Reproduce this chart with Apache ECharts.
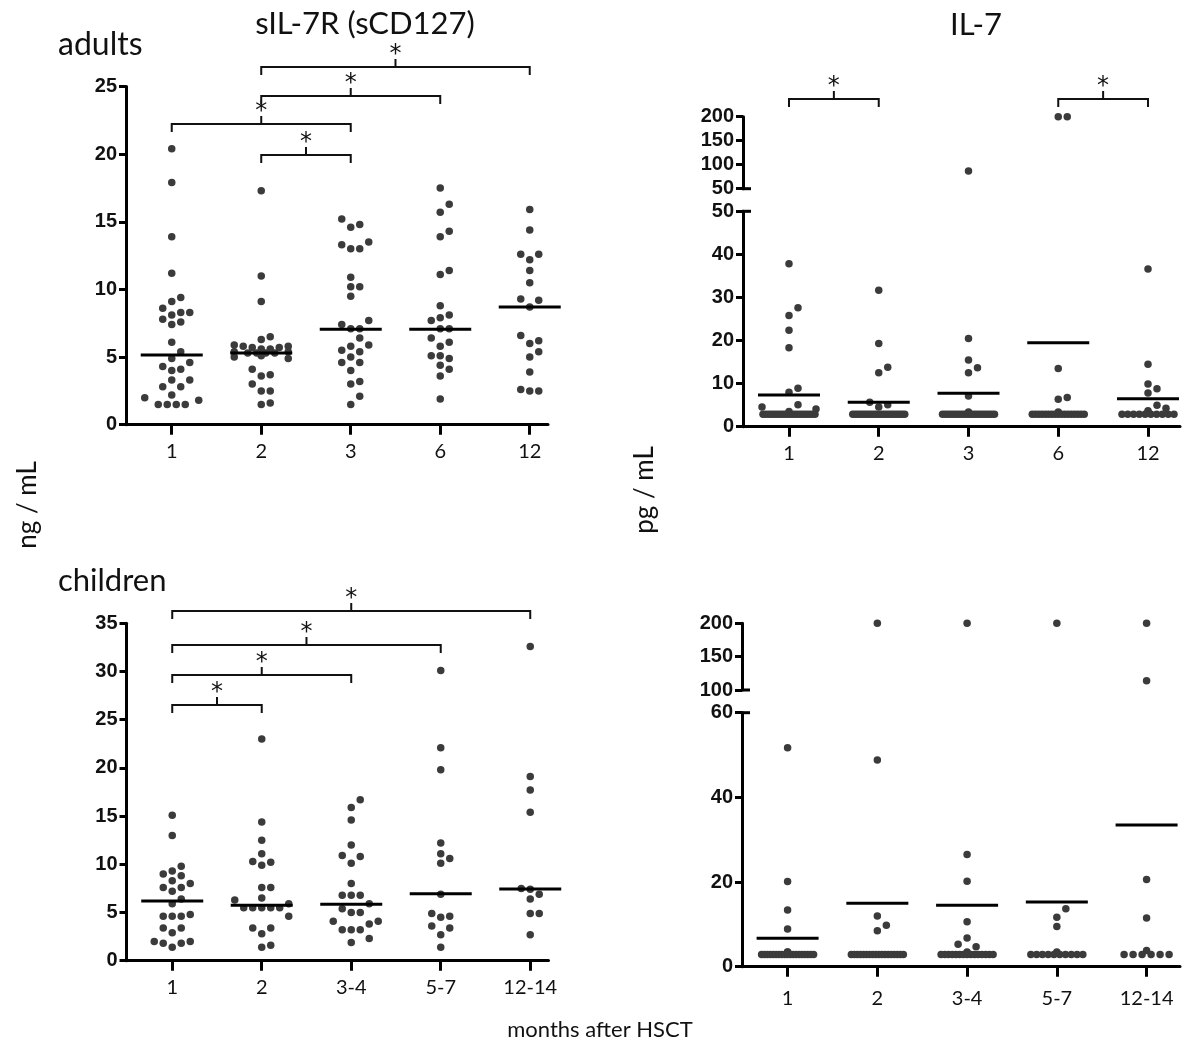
<!DOCTYPE html>
<html><head><meta charset="utf-8">
<script src="https://cdn.jsdelivr.net/npm/echarts@6/dist/echarts.min.js"></script>
<style>html,body{margin:0;padding:0;background:#fff}#c{width:1200px;height:1044px}</style>
</head><body><div id="c"></div>
<script>
// ---------------- DATA ----------------
const catsAdult = ['1', '2', '3', '6', '12'];
const catsChild = ['1', '2', '3-4', '5-7', '12-14'];

// sIL-7R (sCD127), adults, ng/mL
const sil7rAdult1 = [20.4, 17.9, 13.9, 11.2, 9.4, 9.1, 8.6, 8.3, 8.3, 8.1, 7.8, 7.6, 7.4, 6.1, 5.4, 4.9, 4.6, 4.3, 4.1, 4.0, 3.3, 3.3, 2.8, 2.8, 2.2, 2.0, 1.8, 1.5, 1.5, 1.5, 1.5];
const sil7rAdult2 = [17.3, 11.0, 9.1, 6.5, 6.3, 5.9, 5.8, 5.8, 5.7, 5.7, 5.6, 5.6, 5.4, 5.4, 5.3, 5.3, 5.3, 5.3, 5.1, 5.0, 4.9, 4.1, 3.7, 3.6, 3.0, 2.5, 2.5, 1.6, 1.5];
const sil7rAdult3 = [15.2, 14.8, 14.6, 13.5, 13.3, 13.0, 13.0, 10.9, 10.2, 10.2, 9.5, 7.7, 7.4, 7.1, 7.1, 6.4, 5.9, 5.8, 5.5, 5.4, 5.0, 4.6, 4.6, 4.0, 3.2, 3.0, 2.1, 1.5];
const sil7rAdult4 = [17.5, 16.3, 15.7, 14.3, 13.9, 11.4, 11.1, 8.8, 8.1, 7.9, 7.7, 7.1, 7.1, 6.4, 6.1, 5.8, 5.1, 5.1, 4.9, 4.4, 4.1, 3.6, 1.9];
const sil7rAdult5 = [15.9, 14.4, 12.6, 12.6, 12.2, 11.4, 10.5, 9.3, 9.2, 8.7, 6.6, 6.2, 6.0, 5.4, 5.0, 3.9, 2.6, 2.5, 2.5];
const sil7rAdultCenter = [5.15, 5.3, 7.05, 7.05, 8.7];

// IL-7, adults, pg/mL
const il7Adult1 = [37.8, 27.6, 25.8, 22.4, 18.3, 8.9, 8.0, 5.1, 4.6, 4.1, 3.5, 2.9, 2.9, 2.9, 2.9, 2.9, 2.9, 2.9, 2.9, 2.9, 2.9, 2.9, 2.9, 2.9, 2.9, 2.9, 2.9, 2.9, 2.9, 2.9, 2.9];
const il7Adult2 = [31.7, 19.3, 13.8, 12.5, 5.7, 5.1, 4.6, 2.9, 2.9, 2.9, 2.9, 2.9, 2.9, 2.9, 2.9, 2.9, 2.9, 2.9, 2.9, 2.9, 2.9, 2.9, 2.9, 2.9, 2.9, 2.9, 2.9, 2.9, 2.9];
const il7Adult3 = [87, 20.5, 15.5, 13.7, 12.5, 7.1, 3.4, 2.9, 2.9, 2.9, 2.9, 2.9, 2.9, 2.9, 2.9, 2.9, 2.9, 2.9, 2.9, 2.9, 2.9, 2.9, 2.9, 2.9, 2.9, 2.9, 2.9, 2.9];
const il7Adult4 = [200, 200, 13.5, 6.8, 6.4, 3.4, 2.9, 2.9, 2.9, 2.9, 2.9, 2.9, 2.9, 2.9, 2.9, 2.9, 2.9, 2.9, 2.9, 2.9, 2.9, 2.9, 2.9];
const il7Adult5 = [36.6, 14.5, 9.9, 8.8, 7.8, 5.0, 4.3, 3.7, 3.4, 2.9, 2.9, 2.9, 2.9, 2.9, 2.9, 2.9, 2.9, 2.9, 2.9];
const il7AdultCenter = [7.35, 5.65, 7.75, 19.5, 6.5];

// sIL-7R (sCD127), children, ng/mL
const sil7rChild1 = [15.1, 13.0, 9.8, 9.3, 9.0, 8.8, 8.3, 8.0, 7.6, 7.6, 7.2, 6.4, 5.9, 4.8, 4.6, 4.6, 4.6, 3.4, 3.4, 2.9, 2.0, 2.0, 1.8, 1.8, 1.4];
const sil7rChild2 = [23.0, 14.4, 12.5, 11.1, 10.3, 10.2, 9.9, 7.6, 7.6, 6.5, 6.3, 5.9, 5.5, 5.5, 5.5, 5.5, 5.5, 4.6, 3.4, 3.4, 2.8, 1.6, 1.4];
const sil7rChild3 = [16.7, 15.9, 14.6, 12.0, 10.9, 10.8, 10.1, 8.0, 6.8, 6.8, 6.8, 5.9, 5.4, 5.0, 5.0, 4.1, 4.1, 3.8, 3.2, 3.2, 3.2, 2.3, 1.9];
const sil7rChild4 = [30.1, 22.1, 19.8, 12.2, 11.1, 10.6, 10.1, 6.9, 4.9, 4.6, 4.5, 3.6, 3.4, 2.7, 1.4];
const sil7rChild5 = [32.6, 19.1, 17.7, 15.4, 7.5, 7.4, 6.9, 6.4, 4.9, 4.9, 2.7];
const sil7rChildCenter = [6.2, 5.75, 5.85, 6.95, 7.45];

// IL-7, children, pg/mL
const il7Child1 = [51.7, 20.1, 13.4, 8.9, 3.5, 3.5, 2.9, 2.9, 2.9, 2.9, 2.9, 2.9, 2.9, 2.9, 2.9, 2.9, 2.9, 2.9, 2.9, 2.9, 2.9, 2.9, 2.9, 2.9, 2.9];
const il7Child2 = [200, 48.8, 12.0, 9.8, 8.5, 2.9, 2.9, 2.9, 2.9, 2.9, 2.9, 2.9, 2.9, 2.9, 2.9, 2.9, 2.9, 2.9, 2.9, 2.9, 2.9, 2.9, 2.9];
const il7Child3 = [200, 26.5, 20.2, 10.6, 6.8, 5.3, 4.7, 3.5, 2.9, 2.9, 2.9, 2.9, 2.9, 2.9, 2.9, 2.9, 2.9, 2.9, 2.9, 2.9, 2.9, 2.9, 2.9];
const il7Child4 = [200, 13.7, 11.7, 9.5, 3.5, 2.9, 2.9, 2.9, 2.9, 2.9, 2.9, 2.9, 2.9, 2.9, 2.9];
const il7Child5 = [200, 114, 20.6, 11.5, 3.8, 2.9, 2.9, 2.9, 2.9, 2.9, 2.9];
const il7ChildCenter = [6.7, 15.0, 14.5, 15.3, 33.5];

// significance brackets (category numbers compared)
const bracketsSil7rAdult = [[2, 3], [1, 3], [2, 4], [2, 5]];
const bracketsIl7Adult = [[1, 2], [4, 5]];
const bracketsSil7rChild = [[1, 2], [1, 3], [1, 4], [1, 5]];

// y-axis tick settings
const ticksSil7rAdult = {min: 0, max: 25, interval: 5};
const ticksIl7AdultLow = {min: 0, max: 50, interval: 10};
const ticksIl7AdultHigh = {min: 50, max: 200, interval: 50};
const ticksSil7rChild = {min: 0, max: 35, interval: 5};
const ticksIl7ChildLow = {min: 0, max: 60, interval: 20};
const ticksIl7ChildHigh = {min: 100, max: 200, interval: 50};

// ---------------- LAYOUT / STYLE ----------------
const TXT = "Lato, 'Open Sans', sans-serif";
const NUM = "'Liberation Sans', Arial, sans-serif";
const STAR = "'DejaVu Sans', sans-serif";
const DOT = '#3b3b3b';
const STEP = 9, MAXHALF = 26, DOTSIZE = 7.5, HALFLINE = 31;

const grids = [
  {left: 126, top: 86.5, width: 422, height: 338.2},   // 0 sIL-7R adults
  {left: 743, top: 116.7, width: 437, height: 72},     // 1 IL-7 adults upper
  {left: 743, top: 211.3, width: 437, height: 215.4},  // 2 IL-7 adults lower
  {left: 126.5, top: 623.3, width: 422, height: 337.4},// 3 sIL-7R children
  {left: 742, top: 623.3, width: 438, height: 66.7},   // 4 IL-7 children upper
  {left: 742, top: 712.7, width: 438, height: 254}     // 5 IL-7 children lower
];
const xSpans = [
  [0.489, 0.489 + 422 / 89.5],
  [0.4875, 0.4875 + 437 / 89.75],
  [0.4875, 0.4875 + 437 / 89.75],
  [0.489, 0.489 + 422 / 89.5],
  [0.492, 0.492 + 438 / 89.75],
  [0.492, 0.492 + 438 / 89.75]
];
const yTicks = [ticksSil7rAdult, ticksIl7AdultHigh, ticksIl7AdultLow, ticksSil7rChild, ticksIl7ChildHigh, ticksIl7ChildLow];
const xCats = [catsAdult, null, catsAdult, catsChild, null, catsChild];
const xLabelMargin = [17, 0, 17, 17, 0, 22];

// beeswarm-like layout of dots (pixel offsets), Prism style
function swarm(vals, ky) {
  const off = new Array(vals.length);
  const placed = [];
  const groups = {};
  vals.forEach((v, i) => { (groups[v] = groups[v] || []).push(i); });
  Object.keys(groups).forEach(k => {
    const g = groups[k];
    if (g.length < 3) return;
    const n = g.length;
    let sp = STEP;
    if ((n - 1) * STEP > 2 * MAXHALF) sp = 2 * MAXHALF / (n - 1);
    g.forEach((i, j) => { off[i] = (j - (n - 1) / 2) * sp; placed.push({x: off[i], y: vals[i] * ky}); });
  });
  const rest = vals.map((v, i) => i).filter(i => off[i] === undefined).sort((a, b) => vals[a] - vals[b]);
  const cands = [0];
  for (let j = 1; j * STEP <= MAXHALF + 2; j++) cands.push(j * STEP, -j * STEP);
  rest.forEach(i => {
    const y = vals[i] * ky;
    let best = 0, bestD = -1;
    for (const c of cands) {
      let d = Infinity;
      for (const p of placed) { const dd = Math.hypot(p.x - c, p.y - y); if (dd < d) d = dd; }
      if (d >= STEP * 0.97) { best = c; bestD = d; break; }
      if (d > bestD) { bestD = d; best = c; }
    }
    if (bestD < STEP * 0.5) best = 0;
    off[i] = best;
    placed.push({x: best, y});
  });
  return off;
}

function kx(g) { return grids[g].width / (xSpans[g][1] - xSpans[g][0]); }
function ky(g) { return grids[g].height / (yTicks[g].max - yTicks[g].min); }

function dotsFor(lists, g, filter) {
  const out = [];
  lists.forEach((arr, ci) => {
    const vals = arr.filter(filter);
    const offs = swarm(vals, ky(g));
    vals.forEach((v, i) => out.push([ci + 1 + offs[i] / kx(g), v]));
  });
  return out;
}

const sAdult = [sil7rAdult1, sil7rAdult2, sil7rAdult3, sil7rAdult4, sil7rAdult5];
const iAdult = [il7Adult1, il7Adult2, il7Adult3, il7Adult4, il7Adult5];
const sChild = [sil7rChild1, sil7rChild2, sil7rChild3, sil7rChild4, sil7rChild5];
const iChild = [il7Child1, il7Child2, il7Child3, il7Child4, il7Child5];

const series = [];
function scatter(g, data) {
  series.push({type: 'scatter', xAxisIndex: g, yAxisIndex: g, data, symbolSize: DOTSIZE,
    itemStyle: {color: DOT, opacity: 1}, silent: true, animation: false, z: 3});
}
function centers(g, vals) {
  const hw = HALFLINE / kx(g);
  series.push({type: 'custom', xAxisIndex: g, yAxisIndex: g, silent: true, animation: false, z: 6,
    data: vals.map((v, i) => [i + 1, v]),
    renderItem: (p, api) => {
      const x = api.value(0), y = api.value(1);
      const a = api.coord([x - hw, y]), b = api.coord([x + hw, y]);
      return {type: 'line', shape: {x1: a[0], y1: a[1], x2: b[0], y2: b[1]}, style: {stroke: '#000', lineWidth: 3}};
    }});
}
scatter(0, dotsFor(sAdult, 0, v => true));
scatter(1, dotsFor(iAdult, 1, v => v > ticksIl7AdultLow.max));
scatter(2, dotsFor(iAdult, 2, v => v <= ticksIl7AdultLow.max));
scatter(3, dotsFor(sChild, 3, v => true));
scatter(4, dotsFor(iChild, 4, v => v > ticksIl7ChildLow.max));
scatter(5, dotsFor(iChild, 5, v => v <= ticksIl7ChildLow.max));
centers(0, sil7rAdultCenter);
centers(2, il7AdultCenter);
centers(3, sil7rChildCenter);
centers(5, il7ChildCenter);

const xAxis = grids.map((gr, g) => {
  const cats = xCats[g];
  return {
    type: 'value', gridIndex: g, min: xSpans[g][0], max: xSpans[g][1], show: !!cats,
    splitLine: {show: false},
    axisLine: {show: true, onZero: false, lineStyle: {color: '#000', width: 3}},
    axisTick: {show: true, customValues: [1, 2, 3, 4, 5], length: 10, lineStyle: {color: '#000', width: 3}},
    axisLabel: {show: true, customValues: [1, 2, 3, 4, 5], formatter: v => cats ? cats[Math.round(v) - 1] : '',
      fontFamily: TXT, fontSize: 20, color: '#111', margin: xLabelMargin[g]}
  };
});
const yAxis = grids.map((gr, g) => ({
  type: 'value', gridIndex: g, min: yTicks[g].min, max: yTicks[g].max, interval: yTicks[g].interval,
  splitLine: {show: false},
  axisLine: {show: true, onZero: false, lineStyle: {color: '#000', width: 3}},
  axisTick: {show: true, length: 7, lineStyle: {color: '#000', width: 3}},
  axisLabel: {fontFamily: NUM, fontWeight: 'bold', fontSize: 20, color: '#111', margin: 9}
}));

const chart = echarts.init(document.getElementById('c'), null, {renderer: 'canvas'});
chart.setOption({
  animation: false,
  backgroundColor: '#fff',
  grid: grids.map(g => Object.assign({containLabel: false}, g)),
  xAxis, yAxis, series
});

// ---------------- annotations ----------------
const graphics = [];
function text(t, x, y, font, opts) {
  graphics.push({type: 'text', x, y, silent: true,
    style: Object.assign({text: t, fill: '#111', font, textAlign: 'center', textVerticalAlign: 'middle'}, opts || {})});
}
text('sIL-7R (sCD127)', 365, 24, '31px ' + TXT);
text('IL-7', 976, 25, '31px ' + TXT);
text('adults', 58, 45, '32px ' + TXT, {textAlign: 'left'});
text('children', 58, 581, '31px ' + TXT, {textAlign: 'left'});
text('months after HSCT', 600, 1030, '22px ' + TXT);
graphics.push({type: 'text', x: 28, y: 505, rotation: Math.PI / 2, silent: true,
  style: {text: 'ng / mL', fill: '#111', font: '26px ' + TXT, textAlign: 'center', textVerticalAlign: 'middle'}});
graphics.push({type: 'text', x: 645, y: 490, rotation: Math.PI / 2, silent: true,
  style: {text: 'pg / mL', fill: '#111', font: '26px ' + TXT, textAlign: 'center', textVerticalAlign: 'middle'}});

// brackets: pixel levels
const bracketLevels = [
  {g: 0, pairs: bracketsSil7rAdult, ys: [155, 124, 96, 67]},
  {g: 2, pairs: bracketsIl7Adult, ys: [99, 99]},
  {g: 3, pairs: bracketsSil7rChild, ys: [705, 675, 645, 611]}
];
bracketLevels.forEach(b => {
  b.pairs.forEach((pr, i) => {
    const y = b.ys[i];
    const x1 = chart.convertToPixel({xAxisIndex: b.g}, pr[0]);
    const x2 = chart.convertToPixel({xAxisIndex: b.g}, pr[1]);
    const xc = (x1 + x2) / 2;
    graphics.push({type: 'polyline', silent: true, shape: {points: [[x1, y + 8], [x1, y], [x2, y], [x2, y + 8]]},
      style: {stroke: '#111', lineWidth: 2, fill: null}});
    graphics.push({type: 'line', silent: true, shape: {x1: xc, y1: y, x2: xc, y2: y - 8}, style: {stroke: '#111', lineWidth: 2}});
    text('*', xc, y - 12, '24px ' + STAR);
  });
});

// axis break marks
[[2, ticksIl7AdultLow.max], [1, ticksIl7AdultHigh.min], [5, ticksIl7ChildLow.max], [4, ticksIl7ChildHigh.min]].forEach(([g, v]) => {
  const py = chart.convertToPixel({yAxisIndex: g}, v);
  const px = grids[g].left;
  graphics.push({type: 'line', silent: true, shape: {x1: px - 1, y1: py, x2: px + 8, y2: py}, style: {stroke: '#000', lineWidth: 3}});
});

chart.setOption({graphic: graphics});
</script>
</body></html>
